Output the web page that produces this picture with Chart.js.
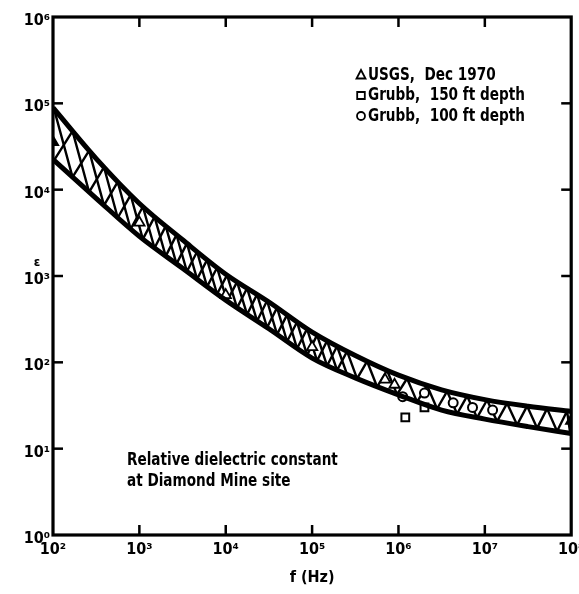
<!DOCTYPE html>
<html><head><meta charset="utf-8">
<script src="https://cdn.jsdelivr.net/npm/chart.js@4.4.1/dist/chart.umd.min.js"></script>
<style>html,body{margin:0;padding:0;background:#fff}canvas{display:block}</style>
</head><body>
<canvas id="c" width="579" height="594"></canvas>
<script>
// ---- data ----
const bandFreq  = [100, 316, 1000, 3160, 10000, 31600, 100000, 316000, 1000000, 3160000, 10000000, 31600000, 100000000];
const bandUpper = [89100, 22900, 6920, 2630, 1050, 500, 224, 120, 71, 48, 37, 31, 27];
const bandLower = [22400, 7940, 2880, 1230, 525, 245, 112, 66, 42, 28, 22, 18, 15];

const usgsFreq = [100, 1000, 10000, 100000, 700000, 900000, 100000000];
const usgsEps  = [35500, 4150, 600, 150, 63, 55, 21];
const grubb150Freq = [1200000, 2000000];
const grubb150Eps  = [23, 30];
const grubb100Freq = [1120000, 2000000, 4300000, 7200000, 12300000];
const grubb100Eps  = [40, 44, 34, 30, 28];

const xTickValues = [1e2, 1e3, 1e4, 1e5, 1e6, 1e7, 1e8];
const xTickLabels = ['10\u00B2', '10\u00B3', '10\u2074', '10\u2075', '10\u2076', '10\u2077', '10\u2078'];
const yTickValues = [1, 10, 100, 1e3, 1e4, 1e5, 1e6];
const yTickLabels = ['10\u2070', '10\u00B9', '10\u00B2', '10\u00B3', '10\u2074', '10\u2075', '10\u2076'];

const seriesLabels = ['USGS,  Dec 1970', 'Grubb,  150 ft depth', 'Grubb,  100 ft depth'];
const noteLines = ['Relative dielectric constant', 'at Diamond Mine site'];
const xTitle = 'f (Hz)';
const yTitle = '\u03B5';

// ---- helpers ----
const FAM = "'DejaVu Sans Condensed','DejaVu Sans',sans-serif";
const pairs = (xs, ys) => xs.map((x, i) => ({x: x, y: ys[i]}));

function curveY(pts, x) {
  for (let i = 0; i < pts.length - 1; i++) {
    const a = pts[i], b = pts[i + 1];
    if (x >= a.x - 0.01 && x <= b.x + 0.01) {
      const p1x = a.cp2x ?? a.x, p1y = a.cp2y ?? a.y, p2x = b.cp1x ?? b.x, p2y = b.cp1y ?? b.y;
      const bz = (t, q0, q1, q2, q3) => (1-t)**3*q0 + 3*(1-t)**2*t*q1 + 3*(1-t)*t*t*q2 + t**3*q3;
      let lo = 0, hi = 1;
      for (let k = 0; k < 30; k++) { const m = (lo + hi) / 2; if (bz(m, a.x, p1x, p2x, b.x) < x) lo = m; else hi = m; }
      const t = (lo + hi) / 2;
      return bz(t, a.y, p1y, p2y, b.y);
    }
  }
  return pts[pts.length - 1].y;
}

// draw horizontally condensed text (the reference uses a narrow typeface)
function narrowText(ctx, text, x, y, sx) {
  ctx.save();
  ctx.translate(x, y);
  ctx.scale(sx, 1);
  ctx.fillText(text, 0, 0);
  ctx.restore();
}

const LATTICE_END = 3e5;

const decor = {
  id: 'decor',
  beforeDatasetsDraw(chart) {
    const ctx = chart.ctx, ca = chart.chartArea;
    const m0 = chart.getDatasetMeta(0), m1 = chart.getDatasetMeta(1);
    m0.dataset.updateControlPoints(ca, 'x');
    m1.dataset.updateControlPoints(ca, 'x');
    const up = m0.data, lo = m1.data;
    const xs = [];
    let x = ca.left + 1;
    while (x < ca.right) {
      xs.push(x);
      const h = curveY(lo, x) - curveY(up, x);
      x += Math.max(10, 0.36 * h);
    }
    xs.push(ca.right - 1);
    ctx.save();
    ctx.beginPath(); ctx.rect(ca.left, ca.top, ca.right - ca.left, ca.bottom - ca.top); ctx.clip();
    ctx.strokeStyle = '#000'; ctx.lineWidth = 2.4; ctx.lineJoin = 'round';
    ctx.beginPath();
    xs.forEach((px, k) => { const py = k % 2 === 0 ? curveY(up, px) : curveY(lo, px); k ? ctx.lineTo(px, py) : ctx.moveTo(px, py); });
    ctx.stroke();
    const split = chart.scales.x.getPixelForValue(LATTICE_END);
    ctx.beginPath();
    let started = false;
    xs.forEach((px, k) => {
      if (px > split) return;
      const py = k % 2 === 0 ? curveY(lo, px) : curveY(up, px);
      if (started) ctx.lineTo(px, py); else { ctx.moveTo(px, py); started = true; }
    });
    ctx.stroke();
    ctx.restore();
  },
  afterDraw(chart) {
    const ctx = chart.ctx, ca = chart.chartArea;
    const sx = chart.scales.x, sy = chart.scales.y;
    ctx.save();
    ctx.strokeStyle = '#000';
    ctx.lineWidth = 2.5;
    const seg = (a, b, c, d) => { ctx.beginPath(); ctx.moveTo(a, b); ctx.lineTo(c, d); ctx.stroke(); };
    xTickValues.forEach(v => {
      const px = sx.getPixelForValue(v);
      if (px > ca.left + 3 && px < ca.right - 3) { seg(px, ca.bottom, px, ca.bottom - 10); seg(px, ca.top, px, ca.top + 10); }
    });
    yTickValues.forEach(v => {
      const py = sy.getPixelForValue(v);
      if (py > ca.top + 3 && py < ca.bottom - 3) { seg(ca.left, py, ca.left + 10, py); seg(ca.right, py, ca.right - 10, py); }
    });
    ctx.lineWidth = 3.2;
    ctx.strokeRect(ca.left, ca.top, ca.right - ca.left, ca.bottom - ca.top);

    // legend (inside plot, top right)
    ctx.fillStyle = '#000';
    ctx.font = 'bold 18px ' + FAM;
    ctx.textBaseline = 'middle';
    ctx.textAlign = 'left';
    const lx = 361, ly0 = 75, ldy = 20.5;
    [2, 3, 4].forEach((di, i) => {
      const ds = chart.data.datasets[di];
      const y = ly0 + i * ldy;
      ctx.lineWidth = 1.8;
      ctx.beginPath();
      if (ds.pointStyle === 'triangle') { ctx.moveTo(lx, y - 5); ctx.lineTo(lx + 4.5, y + 3.5); ctx.lineTo(lx - 4.5, y + 3.5); ctx.closePath(); }
      else if (ds.pointStyle === 'rect') { ctx.rect(lx - 3.8, y - 3.5, 7.6, 7); }
      else { ctx.arc(lx, y, 4, 0, Math.PI * 2); }
      ctx.stroke();
      narrowText(ctx, ds.label, lx + 7, y, 0.84);
    });

    // annotation
    ctx.font = 'bold 18px ' + FAM;
    narrowText(ctx, noteLines[0], 127, 460, 0.84);
    narrowText(ctx, noteLines[1], 127, 481, 0.84);

    // y-axis symbol
    ctx.font = 'bold 13px ' + FAM;
    ctx.textAlign = 'center';
    ctx.fillText(yTitle, 37, 263);
    ctx.restore();
  }
};

const tickFont = {family: FAM, size: 16, weight: 'bold'};
const edgeFill = c => (c.raw && (c.raw.x === xTickValues[0] || c.raw.x === xTickValues[xTickValues.length - 1])) ? '#000' : '#fff';

new Chart(document.getElementById('c'), {
  type: 'scatter',
  data: {
    datasets: [
      {type: 'line', label: 'upper', data: pairs(bandFreq, bandUpper), showLine: true, borderColor: '#000', borderWidth: 5, pointRadius: 0, cubicInterpolationMode: 'monotone', fill: false},
      {type: 'line', label: 'lower', data: pairs(bandFreq, bandLower), showLine: true, borderColor: '#000', borderWidth: 5, pointRadius: 0, cubicInterpolationMode: 'monotone', fill: false},
      {label: seriesLabels[0], data: pairs(usgsFreq, usgsEps), pointStyle: 'triangle', pointRadius: 6, borderWidth: 1.8, borderColor: '#000', backgroundColor: edgeFill},
      {label: seriesLabels[1], data: pairs(grubb150Freq, grubb150Eps), pointStyle: 'rect', pointRadius: 5.5, borderWidth: 2, borderColor: '#000', backgroundColor: '#fff'},
      {label: seriesLabels[2], data: pairs(grubb100Freq, grubb100Eps), pointStyle: 'circle', pointRadius: 4.5, borderWidth: 2, borderColor: '#000', backgroundColor: '#fff'}
    ]
  },
  options: {
    responsive: false,
    animation: false,
    events: [],
    layout: {padding: {left: 0, right: 7, top: 17, bottom: 0}},
    plugins: {legend: {display: false}, tooltip: {enabled: false}},
    scales: {
      x: {
        type: 'logarithmic', min: 1e2, max: 1e8,
        border: {display: false},
        grid: {display: false, drawTicks: false},
        afterBuildTicks: s => { s.ticks = xTickValues.map(v => ({value: v, major: true})); },
        afterFit: s => { s.height = 59; s.paddingLeft = 0; s.paddingRight = 0; },
        ticks: {autoSkip: false, maxRotation: 0, padding: 5, color: '#000', font: tickFont,
                callback: v => xTickLabels[xTickValues.indexOf(v)] ?? ''},
        title: {display: true, text: xTitle, color: '#000', font: {family: FAM, size: 16, weight: 'bold'}, padding: {top: 0, bottom: 7}}
      },
      y: {
        type: 'logarithmic', min: 1, max: 1e6,
        border: {display: false},
        grid: {display: false, drawTicks: false},
        afterBuildTicks: s => { s.ticks = yTickValues.map(v => ({value: v, major: true})); },
        afterFit: s => { s.width = 53; s.paddingTop = 0; s.paddingBottom = 0; },
        ticks: {autoSkip: false, padding: 3, labelOffset: 4, color: '#000', font: tickFont,
                callback: v => yTickLabels[yTickValues.indexOf(v)] ?? ''}
      }
    }
  },
  plugins: [decor]
});
</script>
</body></html>
